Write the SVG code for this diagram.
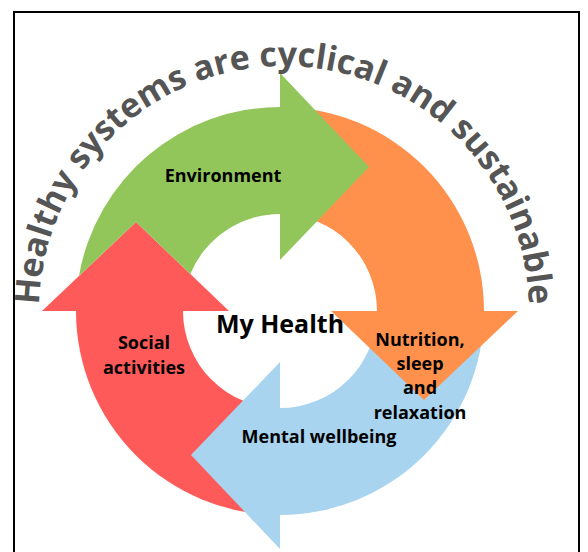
<svg xmlns="http://www.w3.org/2000/svg" width="588" height="552" viewBox="0 0 588 552">
  <style>
    .lbl { font-family: "Open Sans", "DejaVu Sans", sans-serif; font-weight: 700; font-size: 18px; fill: #000; text-anchor: middle; }
    .title { font-family: "Open Sans", "DejaVu Sans", sans-serif; font-weight: 700; font-size: 34px; fill: #555555; }
  </style>
  <defs>
    <path id="arrowFull" d="M 0 -204 A 204 204 0 0 1 204 0 L 238 0 L 144 89 L 51 0 L 97 0 A 97 97 0 0 0 0 -97 Z"/>
    <path id="arrowNotched" d="M 35.1 -201 A 204 204 0 0 1 204 0 L 238 0 L 144 89 L 51 0 L 97 0 A 97 97 0 0 0 37 -89.66 L 89 -144 Z"/>
    <path id="titleArc" d="M 39 311 A 245 245 0 0 1 529 311"/>
  </defs>
  <rect x="14" y="12" width="565" height="560" fill="#ffffff" stroke="#000000" stroke-width="2"/>
  <g id="connectors" transform="translate(280 311)">
    <use id="arrow-social" href="#arrowFull" transform="rotate(180)" fill="#FF5A5A"/>
    <use id="arrow-mental" href="#arrowFull" transform="rotate(90)" fill="#A8D4EF"/>
    <use id="arrow-nutrition" href="#arrowFull" fill="#FF914D"/>
    <use id="arrow-environment" href="#arrowNotched" transform="rotate(-90)" fill="#92C65A"/>
  </g>
  <g id="title">
    <text class="title"><textPath href="#titleArc" startOffset="50%" text-anchor="middle">Healthy systems are cyclical and sustainable</textPath></text>
  </g>
  <g id="node-environment"><text class="lbl" x="223" y="182">Environment</text></g>
  <g id="node-social"><text class="lbl" x="144" y="349">Social</text><text class="lbl" x="144" y="374">activities</text></g>
  <g id="node-myhealth"><text class="lbl" x="280" y="333" style="font-size:25px">My Health</text></g>
  <g id="node-nutrition"><text class="lbl" x="420" y="346">Nutrition,</text><text class="lbl" x="420" y="370">sleep</text><text class="lbl" x="420" y="394">and</text><text class="lbl" x="420" y="419">relaxation</text></g>
  <g id="node-mental"><text class="lbl" x="319" y="443">Mental wellbeing</text></g>
</svg>
